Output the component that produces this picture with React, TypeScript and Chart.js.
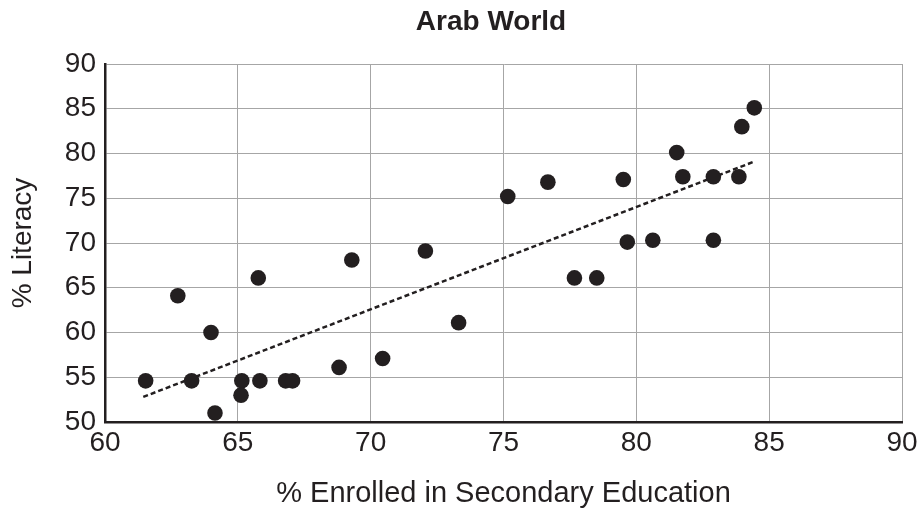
import React, { useEffect, useRef } from "react";
import { Chart, registerables } from "chart.js";

Chart.register(...registerables);

const chartTitle = "Arab World";
const xAxisTitle = "% Enrolled in Secondary Education";
const yAxisTitle = "% Literacy";

const enrolled = [
  61.53, 62.74, 63.99, 63.26, 64.14, 65.15, 65.12, 65.77, 65.83, 66.8, 67.06,
  68.81, 69.29, 70.45, 72.06, 73.31, 75.16, 76.67, 77.67, 78.51, 79.51, 79.66,
  80.62, 81.52, 81.75, 82.9, 82.9, 83.86, 83.97, 84.44,
];
const literacy = [
  54.6, 64.1, 60.0, 54.6, 51.0, 54.6, 53.0, 66.1, 54.6, 54.6, 54.6, 56.1, 68.1,
  57.1, 69.1, 61.1, 75.2, 76.8, 66.1, 66.1, 77.1, 70.1, 70.3, 80.1, 77.4, 77.4,
  70.3, 77.4, 83.0, 85.1,
];
const trendX = [61.44, 84.44];
const trendY = [52.8, 79.1];

const INK = "#231f20";
const FONT = "'Liberation Sans', Arial, Helvetica, sans-serif";

const titlePlugin = {
  id: "customTitle",
  afterDraw(chart: any) {
    const ctx = chart.ctx;
    ctx.save();
    ctx.fillStyle = INK;
    ctx.font = `bold 28px ${FONT}`;
    ctx.textAlign = "center";
    ctx.textBaseline = "alphabetic";
    ctx.fillText(chartTitle, 491, 30);
    ctx.restore();
  },
};

export default function App() {
  const ref = useRef<HTMLCanvasElement | null>(null);

  useEffect(() => {
    if (!ref.current) return;
    const points = enrolled.map((x, i) => ({ x, y: literacy[i] }));
    const trend = trendX.map((x, i) => ({ x, y: trendY[i] }));
    const chart = new Chart(ref.current, {
      type: "scatter",
      data: {
        datasets: [
          {
            type: "line",
            data: trend,
            borderColor: INK,
            borderWidth: 2.5,
            borderDash: [5, 3],
            pointRadius: 0,
            fill: false,
            order: 1,
          } as any,
          {
            type: "scatter",
            data: points,
            backgroundColor: INK,
            borderWidth: 0,
            pointRadius: 7.8,
            order: 0,
          },
        ],
      },
      options: {
        animation: false,
        responsive: true,
        maintainAspectRatio: false,
        layout: { padding: { top: 64, left: 0, right: 15, bottom: 0 } },
        plugins: {
          legend: { display: false },
          tooltip: { enabled: false },
          title: { display: false },
        },
        scales: {
          x: {
            type: "linear",
            min: 60,
            max: 90,
            ticks: {
              stepSize: 5,
              color: INK,
              padding: 4,
              font: { family: FONT, size: 28 },
              maxRotation: 0,
            },
            grid: { color: "#a6a6a6", lineWidth: 1, drawTicks: false },
            border: { color: INK, width: 2.5 },
            title: {
              display: true,
              text: xAxisTitle,
              color: INK,
              font: { family: FONT, size: 29 },
              padding: { top: 0, bottom: 6 },
            },
            afterFit(scale: any) {
              scale.height = 95;
              scale.paddingLeft = 0;
              scale.paddingRight = 0;
            },
          },
          y: {
            type: "linear",
            min: 50,
            max: 90,
            ticks: {
              stepSize: 5,
              color: INK,
              padding: 9,
              font: { family: FONT, size: 28 },
            },
            grid: { color: "#a6a6a6", lineWidth: 1, drawTicks: false },
            border: { color: INK, width: 2.5 },
            title: {
              display: true,
              text: yAxisTitle,
              color: INK,
              font: { family: FONT, size: 28 },
              padding: { top: 6, bottom: 0 },
            },
            afterFit(scale: any) {
              scale.width = 105;
              scale.paddingTop = 0;
              scale.paddingBottom = 0;
            },
          },
        },
      },
      plugins: [titlePlugin],
    });
    return () => chart.destroy();
  }, []);

  return (
    <div
      style={{
        position: "absolute",
        left: 0,
        top: 0,
        width: 917,
        height: 517,
        background: "#ffffff",
      }}
    >
      <canvas ref={ref} />
    </div>
  );
}
